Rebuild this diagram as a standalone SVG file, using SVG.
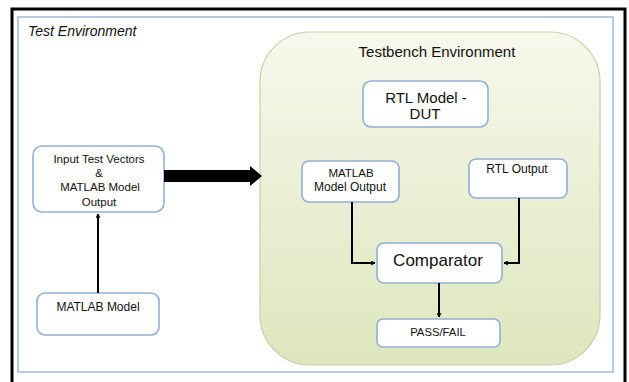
<svg xmlns="http://www.w3.org/2000/svg" width="629" height="382" viewBox="0 0 629 382">
<defs>
<linearGradient id="tbg" x1="0" y1="0" x2="0" y2="1">
<stop offset="0" stop-color="#f7f8ec"/>
<stop offset="1" stop-color="#dde6bd"/>
</linearGradient>
<marker id="ah" viewBox="0 0 10 10" refX="9" refY="5" markerWidth="5" markerHeight="5" orient="auto" markerUnits="userSpaceOnUse">
<path d="M1,1 L9,5 L1,9" fill="none" stroke="#000" stroke-width="2"/>
</marker>
<style>
.box{fill:#fff;stroke:#8fb0d4;stroke-width:1.6}
.t{font-family:"Liberation Sans",Arial,sans-serif;fill:#111;text-anchor:middle}
.c{fill:none;stroke:#000;stroke-width:2}
</style>
</defs>
<rect x="0" y="0" width="629" height="382" fill="#fff"/>
<rect x="12" y="9" width="613" height="380" fill="#fff" stroke="#000" stroke-width="3"/>
<rect x="18" y="17" width="595" height="355" fill="#fff" stroke="#9dbbd9" stroke-width="1.5"/>
<text x="28" y="36" font-family="Liberation Sans,Arial,sans-serif" font-style="italic" font-size="14" fill="#111">Test Environment</text>
<g id="testbench">
<rect x="260" y="32" width="340" height="333" rx="50" ry="50" fill="url(#tbg)" stroke="#c8cfa8" stroke-width="1.2"/>
<text class="t" x="437" y="57" font-size="15">Testbench Environment</text>
</g>
<g id="rtl-dut">
<rect class="box" x="363" y="81" width="125" height="46" rx="8"/>
<text class="t" x="426" y="103" font-size="15">RTL Model -</text>
<text class="t" x="425" y="119" font-size="15">DUT</text>
</g>
<g id="matlab-output">
<rect class="box" x="302" y="161" width="97" height="41" rx="7"/>
<text class="t" x="351" y="177" font-size="11.5">MATLAB</text>
<text class="t" x="350" y="191" font-size="12">Model Output</text>
</g>
<g id="rtl-output">
<rect class="box" x="469" y="159" width="98" height="39" rx="7"/>
<text class="t" x="517" y="173" font-size="12">RTL Output</text>
</g>
<g id="comparator">
<rect class="box" x="377" y="243" width="125" height="40" rx="7"/>
<text class="t" x="438" y="266" font-size="17">Comparator</text>
</g>
<g id="passfail">
<rect class="box" x="377" y="319" width="123" height="28" rx="6"/>
<text class="t" x="438" y="336" font-size="11.3">PASS/FAIL</text>
</g>
<g id="input-vectors">
<rect class="box" x="33" y="146" width="131" height="66" rx="9"/>
<text class="t" x="99" y="163" font-size="11.5">Input Test Vectors</text>
<text class="t" x="99" y="177" font-size="11.5">&amp;</text>
<text class="t" x="100" y="191" font-size="11.5">MATLAB Model</text>
<text class="t" x="99" y="206" font-size="11.5" fill="#444">Output</text>
</g>
<g id="matlab-model">
<rect class="box" x="37" y="293" width="122" height="42" rx="8"/>
<text class="t" x="98" y="311" font-size="12">MATLAB Model</text>
</g>
<g id="connectors">
<path class="c" d="M98,293 L98,214" marker-end="url(#ah)"/>
<path d="M164,170 L250,170 L250,166 L262,176 L250,186 L250,182 L164,182 Z" fill="#000"/>
<path class="c" d="M352,202 L352,263 L375,263" marker-end="url(#ah)"/>
<path class="c" d="M519,198 L519,263 L504,263" marker-end="url(#ah)"/>
<path class="c" d="M439,283 L439,317" marker-end="url(#ah)"/>
</g>
</svg>
